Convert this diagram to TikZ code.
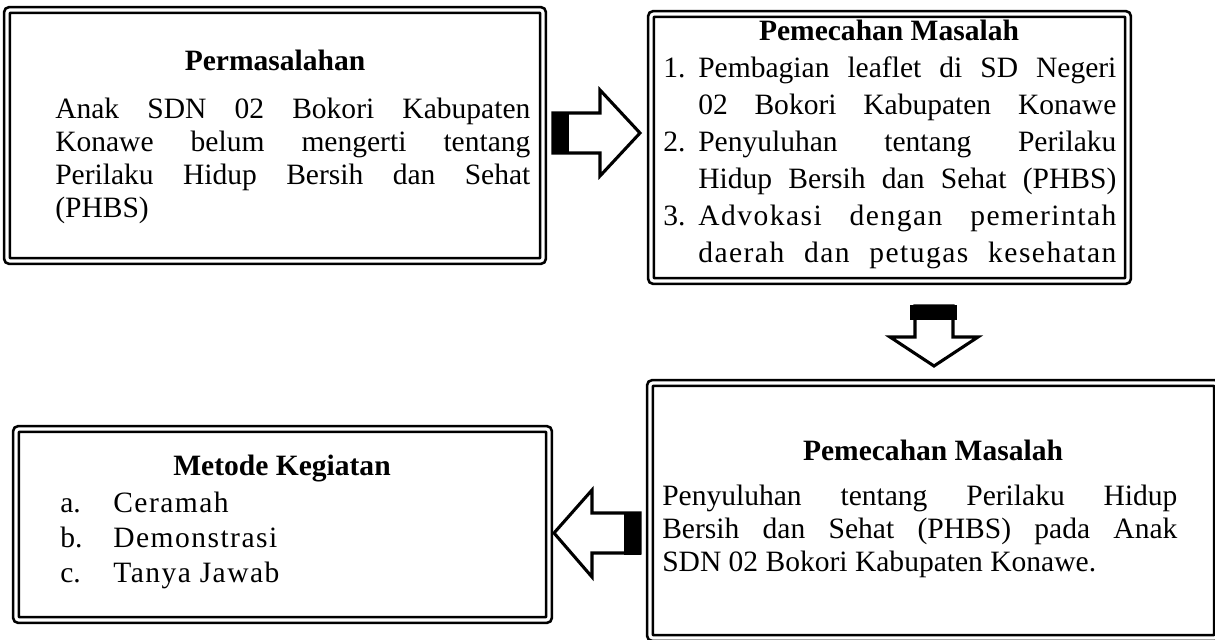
\documentclass[tikz,border=0pt]{standalone}
\usepackage{fontspec}
\setmainfont{Liberation Serif}
\newfontfamily\spaced{Liberation Serif}[LetterSpace=5]
\usetikzlibrary{fit}

\begin{document}
\begin{tikzpicture}[x=0.025cm, y=-0.025cm,
	box/.style={draw, line width=1.9pt, double, double distance=2.2pt, rounded corners=2pt, inner sep=0pt},
	txt/.style={anchor=base west, inner sep=0pt, font=\fontsize{21}{24}\selectfont},
	head/.style={anchor=base, inner sep=0pt, font=\fontsize{21}{24}\selectfont\bfseries},
	blockarrow/.style={draw, line width=2.2pt, fill=white, miter limit=10},
	bar/.style={fill=black}]
	\useasboundingbox (0,0) rectangle (1215,639);

	% boxes
	\node[box, fit={(7,10) (543,261)}] (masalah) {};
	\node[box, fit={(651,14) (1128,281)}] (solusi) {};
	\node[box, fit={(650,383) (1217,638)}] (program) {};
	\node[box, fit={(16,429) (549,620)}] (metode) {};

	% permasalahan
	\node[head] (mhead) at (275,70) {Permasalahan};
	\node[txt] (m1) at (55,118) {\makebox[11.875cm][s]{Anak SDN 02 Bokori Kabupaten}};
	\node[txt] (m2) at (55,151) {\makebox[11.875cm][s]{Konawe belum mengerti tentang}};
	\node[txt] (m3) at (55,184) {\makebox[11.875cm][s]{Perilaku Hidup Bersih dan Sehat}};
	\node[txt] (m4) at (55,217) {(PHBS)};

	% pemecahan masalah (list)
	\node[head] (shead) at (889,40) {Pemecahan Masalah};
	\node[txt] (n1) at (663,77) {1.};
	\node[txt] (s1a) at (698,77) {\makebox[10.45cm][s]{Pembagian leaflet di SD Negeri}};
	\node[txt] (s1b) at (698,114) {\makebox[10.45cm][s]{02 Bokori Kabupaten Konawe}};
	\node[txt] (n2) at (663,151) {2.};
	\node[txt] (s2a) at (698,151) {\makebox[10.45cm][s]{Penyuluhan tentang Perilaku}};
	\node[txt] (s2b) at (698,188) {\makebox[10.45cm][s]{Hidup Bersih dan Sehat (PHBS)}};
	\node[txt] (n3) at (663,225) {3.};
	\node[txt] (s3a) at (698,225) {\makebox[10.45cm][s]{\spaced Advokasi dengan pemerintah}};
	\node[txt] (s3b) at (698,262) {\makebox[10.45cm][s]{\spaced daerah dan petugas kesehatan}};

	% pemecahan masalah (program)
	\node[head] (phead) at (933,460) {Pemecahan Masalah};
	\node[txt] (p1) at (662,505) {\makebox[12.875cm][s]{Penyuluhan tentang Perilaku Hidup}};
	\node[txt] (p2) at (662,538) {\makebox[12.875cm][s]{Bersih dan Sehat (PHBS) pada Anak}};
	\node[txt] (p3) at (662,571) {SDN 02 Bokori Kabupaten Konawe.};

	% metode
	\node[head] (khead) at (282,475) {Metode Kegiatan};
	\node[txt] (la) at (60,512) {a.};
	\node[txt] (ka) at (113,512) {\spaced Ceramah};
	\node[txt] (lb) at (60,547) {b.};
	\node[txt] (kb) at (113,547) {\spaced Demonstrasi};
	\node[txt] (lc) at (60,582) {c.};
	\node[txt] (kc) at (113,582) {\spaced Tanya Jawab};

	% arrows
	\draw[blockarrow] (553,113) -- (600,113) -- (600,90) -- (640,133) -- (600,176) -- (600,153) -- (553,153) -- cycle;
	\fill[bar] (552,112) rectangle (569,154);
	\draw[blockarrow] (915,306) -- (953,306) -- (953,337) -- (978,337) -- (934,366) -- (890,337) -- (915,337) -- cycle;
	\fill[bar] (910,305) rectangle (957,320);
	\draw[blockarrow] (640,513) -- (592,513) -- (592,490) -- (554,533) -- (592,577) -- (592,553) -- (640,553) -- cycle;
	\fill[bar] (624,512) rectangle (641,555);
\end{tikzpicture}
\end{document}
